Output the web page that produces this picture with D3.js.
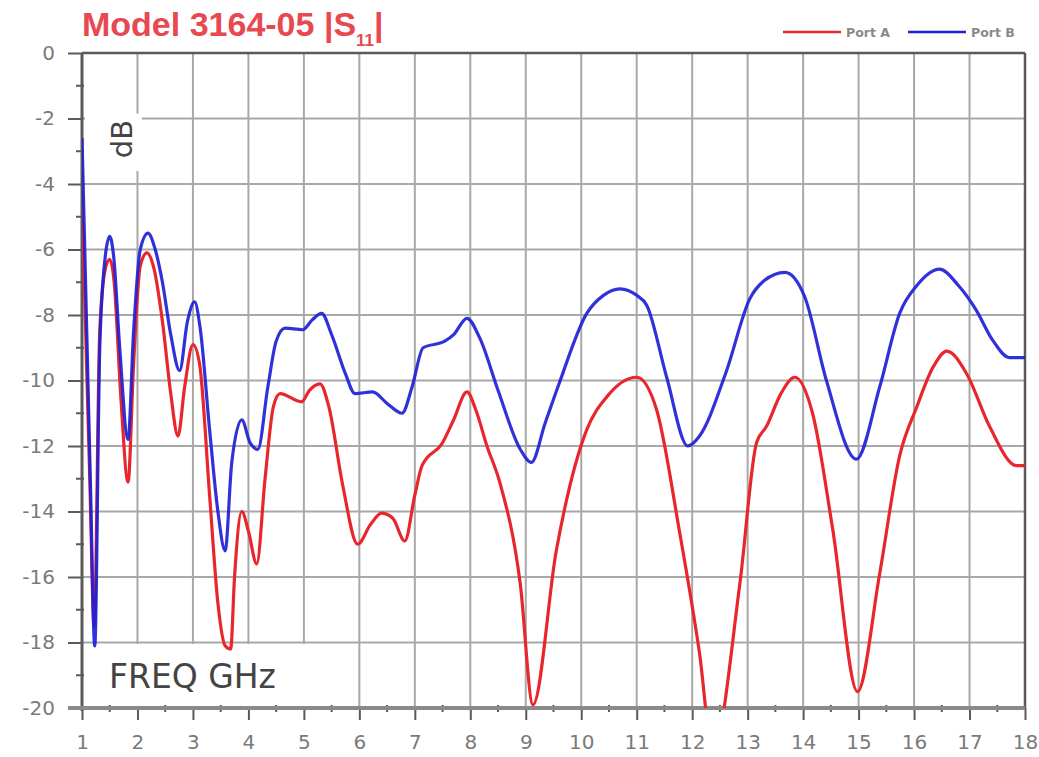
<!DOCTYPE html>
<html>
<head>
<meta charset="utf-8">
<script src="https://cdn.jsdelivr.net/npm/d3@7/dist/d3.min.js"></script>
<style>
  html, body { margin: 0; padding: 0; background: #ffffff; }
  svg { display: block; font-family: "DejaVu Sans", Verdana, sans-serif; }
</style>
</head>
<body>
<svg id="chart" width="1039" height="757"></svg>
<script>
// ---- data ----
const titleMain = "Model 3164-05 |S";
const titleSub = "11";
const seriesNames = ["Port A", "Port B"];
const xTicks = [1,2,3,4,5,6,7,8,9,10,11,12,13,14,15,16,17,18];
const yTicks = [0,-2,-4,-6,-8,-10,-12,-14,-16,-18,-20];

const portAFreq = [1.0,1.05,1.14,1.22,1.32,1.42,1.5,1.58,1.7,1.83,1.93,2.05,2.17,2.3,2.45,2.6,2.73,2.85,3.0,3.12,3.3,3.45,3.58,3.68,3.75,3.88,4.0,4.15,4.3,4.45,4.57,4.96,5.1,5.29,5.45,5.7,5.97,6.2,6.4,6.6,6.82,7.0,7.13,7.5,7.7,7.94,8.1,8.3,8.53,8.9,9.13,9.55,10.1,10.46,11.0,11.36,11.77,12.13,12.37,12.86,13.16,13.34,13.6,13.85,14.17,14.53,14.98,15.38,15.74,16.05,16.34,16.59,16.95,17.36,17.85,18.0];
const portAdB  = [-4.5,-7.5,-13,-17.5,-8.5,-6.6,-6.3,-7.0,-10.5,-13.1,-9.5,-6.5,-6.1,-6.6,-8.2,-10.4,-11.7,-10.2,-8.9,-9.5,-13.5,-16.8,-18.1,-18.2,-16,-14.0,-14.6,-15.6,-13,-10.8,-10.4,-10.65,-10.3,-10.1,-10.8,-13.2,-15.0,-14.4,-14.05,-14.2,-14.9,-13.5,-12.6,-11.9,-11.2,-10.35,-10.9,-12.0,-13.1,-16.2,-19.9,-15.2,-11.5,-10.5,-9.9,-10.9,-14.6,-18.3,-21.3,-16.2,-11.9,-11.4,-10.4,-9.9,-11.0,-14.5,-19.5,-15.9,-12.3,-10.8,-9.6,-9.1,-9.8,-11.4,-12.6,-12.6];

const portBFreq = [1.0,1.05,1.15,1.23,1.32,1.42,1.5,1.57,1.68,1.83,1.93,2.05,2.19,2.32,2.45,2.6,2.76,2.9,3.03,3.13,3.3,3.45,3.58,3.7,3.88,4.03,4.17,4.35,4.5,4.66,4.98,5.15,5.32,5.5,5.75,5.92,6.24,6.5,6.77,6.95,7.15,7.54,7.7,7.94,8.17,8.5,8.9,9.1,9.35,9.6,10.1,10.4,10.7,11.0,11.18,11.54,11.92,12.13,12.62,13.04,13.3,13.67,14.03,14.42,14.96,15.38,15.74,16.05,16.46,16.8,17.12,17.41,17.72,18.0];
const portBdB  = [-2.6,-6,-13,-18.1,-9,-6.2,-5.6,-6.2,-9,-11.8,-8.5,-6.0,-5.5,-6.0,-7.0,-8.6,-9.7,-8.2,-7.6,-8.4,-11.5,-14,-15.2,-12.5,-11.2,-11.9,-12.1,-10.2,-8.8,-8.4,-8.45,-8.15,-7.95,-8.6,-9.8,-10.4,-10.35,-10.7,-11.0,-10.2,-9.0,-8.8,-8.6,-8.1,-8.7,-10.3,-12.1,-12.5,-11.3,-10.1,-7.95,-7.4,-7.2,-7.4,-7.7,-9.9,-12.0,-11.7,-9.7,-7.5,-6.95,-6.7,-7.45,-10.0,-12.4,-10.2,-7.95,-7.1,-6.6,-7.1,-7.85,-8.75,-9.3,-9.3];

// ---- layout ----
const svg = d3.select("#chart");
const pLeft = 82, pRight = 1025, pTop = 53, pBottom = 708;
const x = d3.scaleLinear().domain([1, 18]).range([pLeft, pRight]);
const y = d3.scaleLinear().domain([0, -20]).range([pTop, pBottom]);
const gridColor = "#a8a8a8", axisColor = "#5a5a5a", labelColor = "#7a7a7a";
const red = "#e8262c", blue = "#1f1fd6";

// grid
const grid = svg.append("g");
grid.selectAll("line.v").data(xTicks.slice(1, -1)).join("line")
  .attr("x1", d => x(d)).attr("x2", d => x(d)).attr("y1", pTop).attr("y2", pBottom)
  .attr("stroke", gridColor).attr("stroke-width", 2);
grid.selectAll("line.h").data(yTicks.slice(1, -1)).join("line")
  .attr("x1", pLeft).attr("x2", pRight).attr("y1", d => y(d)).attr("y2", d => y(d))
  .attr("stroke", gridColor).attr("stroke-width", 2);

// white label boxes
svg.append("rect").attr("x", pLeft + 2).attr("y", y(-18) + 1.5)
  .attr("width", x(5.3) - pLeft - 2).attr("height", pBottom - y(-18) - 2).attr("fill", "#fff");
svg.append("rect").attr("x", pLeft + 3).attr("y", y(-1.85))
  .attr("width", x(2.08) - pLeft - 3).attr("height", y(-3.6) - y(-1.85)).attr("fill", "#fff");

svg.append("text").text("FREQ GHz")
  .attr("x", 109).attr("y", 688).attr("font-size", 33).attr("fill", "#444");
svg.append("text").text("dB")
  .attr("transform", `translate(132, 139) rotate(-90)`)
  .attr("text-anchor", "middle").attr("font-size", 29).attr("fill", "#444");

// axes
const fmt = d => String(d);
const xAxis = d3.axisBottom(x).tickValues(xTicks).tickSize(12).tickPadding(15).tickFormat(fmt);
const gx = svg.append("g").attr("transform", `translate(0,${pBottom})`).call(xAxis);
const yAxis = d3.axisLeft(y).tickValues(yTicks).tickSize(14).tickPadding(13).tickFormat(fmt);
const gy = svg.append("g").attr("transform", `translate(${pLeft},0)`).call(yAxis);
[gx, gy].forEach(g => {
  g.select(".domain").remove();
  g.selectAll(".tick line").attr("stroke", axisColor).attr("stroke-width", 2);
  g.selectAll(".tick text").attr("fill", labelColor).attr("font-size", 20)
    .attr("font-family", "DejaVu Sans, sans-serif");
});
// minor ticks
svg.append("g").selectAll("line").data(d3.range(1.5, 18, 1)).join("line")
  .attr("x1", d => x(d)).attr("x2", d => x(d)).attr("y1", pBottom - 3).attr("y2", pBottom + 4)
  .attr("stroke", axisColor).attr("stroke-width", 2);
svg.append("g").selectAll("line").data(d3.range(-1, -20, -2)).join("line")
  .attr("y1", d => y(d)).attr("y2", d => y(d)).attr("x1", pLeft - 6).attr("x2", pLeft + 2)
  .attr("stroke", axisColor).attr("stroke-width", 2);

// frame
svg.append("line").attr("x1", pLeft).attr("x2", pRight).attr("y1", pTop).attr("y2", pTop).attr("stroke", axisColor).attr("stroke-width", 2.5);
svg.append("line").attr("x1", pRight).attr("x2", pRight).attr("y1", pTop).attr("y2", pBottom).attr("stroke", axisColor).attr("stroke-width", 2.5);
svg.append("line").attr("x1", pLeft).attr("x2", pLeft).attr("y1", pTop).attr("y2", pBottom + 3).attr("stroke", axisColor).attr("stroke-width", 3);
svg.append("line").attr("x1", pLeft - 14).attr("x2", pRight).attr("y1", pBottom).attr("y2", pBottom).attr("stroke", "#8a8a8a").attr("stroke-width", 4);

// curves
svg.append("clipPath").attr("id", "plotclip").append("rect")
  .attr("x", pLeft).attr("y", pTop).attr("width", pRight - pLeft).attr("height", pBottom - pTop);
const line = d3.line().x(d => x(d[0])).y(d => y(d[1])).curve(d3.curveMonotoneX);
const dataA = portAFreq.map((f, i) => [f, portAdB[i]]);
const dataB = portBFreq.map((f, i) => [f, portBdB[i]]);
const curves = svg.append("g").attr("clip-path", "url(#plotclip)");
curves.append("path").datum(dataA).attr("d", line).attr("fill", "none")
  .attr("stroke", red).attr("stroke-width", 3.2).attr("stroke-linejoin", "round");
curves.append("path").datum(dataB).attr("d", line).attr("fill", "none")
  .attr("stroke", blue).attr("stroke-width", 3.2).attr("stroke-linejoin", "round").attr("opacity", 0.92);

// title
const title = svg.append("text").attr("x", 82).attr("y", 36).attr("font-size", 34)
  .attr("font-family", "Liberation Sans, Arial, sans-serif").attr("font-weight", "bold").attr("fill", "#e84850");
title.append("tspan").text(titleMain);
title.append("tspan").text(titleSub).attr("font-size", 17).attr("dy", 10);
title.append("tspan").text("|").attr("dy", -10);

// legend
const legendX = [783, 908];
const legendColors = [red, blue];
const lg = svg.append("g");
seriesNames.forEach((name, i) => {
  lg.append("line").attr("x1", legendX[i]).attr("x2", legendX[i] + 58).attr("y1", 32).attr("y2", 32)
    .attr("stroke", legendColors[i]).attr("stroke-width", 2.5);
  lg.append("text").text(name).attr("x", legendX[i] + 63).attr("y", 36.5)
    .attr("font-size", 12.5).attr("font-weight", "bold").attr("fill", "#8a8a8a");
});
</script>
</body>
</html>
